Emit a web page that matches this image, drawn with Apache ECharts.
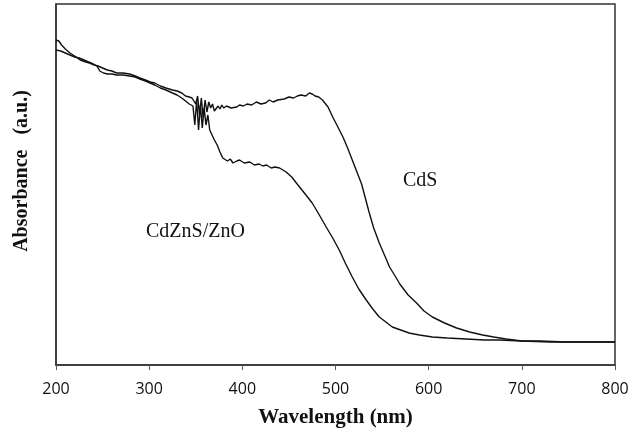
<!DOCTYPE html>
<html>
<head>
<meta charset="utf-8">
<script src="https://cdn.jsdelivr.net/npm/echarts@6/dist/echarts.min.js"></script>
<style>
html, body { margin: 0; padding: 0; background: #fff; }
#chart { width: 644px; height: 436px; }
</style>
</head>
<body>
<div id="chart"></div>
<script>
// 数据
var xTicks = [200, 300, 400, 500, 600, 700, 800];

var wlCdS = [200, 203, 206, 210, 215, 220, 226, 232, 236, 241, 245, 250, 255, 260, 265, 272, 279, 285, 290, 296, 301, 306, 312, 318, 325, 330, 335, 339, 343, 346, 348,
    350, 352, 354, 356, 358, 360, 362, 364, 366, 368, 370, 372, 374, 376, 378, 380, 383, 385, 388, 390, 394, 397, 401, 405, 410, 415, 420, 425,
    429, 433, 438, 445, 450, 455, 459, 463, 468, 472, 475, 478, 482, 486, 492, 497, 502, 508, 513, 518, 523, 528, 532, 536, 541, 547,
    553, 558, 564, 569, 578, 587, 595, 604, 617, 630, 644, 658, 670, 683, 700, 720, 747, 770, 800];
var absCdS = [3.28, 3.27, 3.23, 3.19, 3.15, 3.12, 3.08, 3.06, 3.05, 3.03, 3.02, 3.00, 2.98, 2.97, 2.95, 2.95, 2.94, 2.92, 2.90, 2.88, 2.86, 2.85, 2.82, 2.80, 2.78, 2.77, 2.75, 2.72, 2.71, 2.70, 2.69,
    2.64, 2.72, 2.53, 2.70, 2.50, 2.68, 2.56, 2.66, 2.60, 2.64, 2.57, 2.58, 2.62, 2.59, 2.63, 2.60, 2.62, 2.64, 2.60, 2.62, 2.61, 2.63, 2.62, 2.64, 2.63, 2.66, 2.64, 2.65,
    2.68, 2.66, 2.68, 2.69, 2.71, 2.70, 2.72, 2.73, 2.72, 2.75, 2.74, 2.72, 2.71, 2.68, 2.61, 2.51, 2.42, 2.31, 2.20, 2.08, 1.96, 1.84, 1.70, 1.56, 1.40, 1.25,
    1.12, 1.01, 0.92, 0.84, 0.73, 0.65, 0.57, 0.51, 0.45, 0.40, 0.36, 0.33, 0.31, 0.29, 0.27, 0.27, 0.26, 0.26, 0.26];

var wlZn = [200, 205, 210, 215, 220, 225, 230, 235, 240, 244, 247, 251, 255, 260, 265, 272, 279, 285, 290, 296, 301, 306, 312, 318, 325, 330, 335, 339, 343, 347,
    349, 351, 353, 355, 357, 359, 361, 363, 365, 367, 370, 373, 376, 379, 384, 387, 390, 394, 397, 402, 408, 413, 418,
    422, 426, 431, 435, 440, 447, 453, 458, 464, 470, 475, 482, 490, 497, 504, 511, 518, 525, 533, 540, 547,
    554, 561, 570, 579, 590, 604, 620, 640, 660, 676, 700, 730, 760, 800];
var absZn = [3.18, 3.17, 3.15, 3.13, 3.11, 3.10, 3.08, 3.06, 3.04, 3.02, 2.97, 2.95, 2.94, 2.94, 2.93, 2.93, 2.92, 2.91, 2.89, 2.87, 2.85, 2.83, 2.80, 2.78, 2.75, 2.73, 2.70, 2.67, 2.64, 2.62,
    2.43, 2.68, 2.38, 2.63, 2.40, 2.60, 2.43, 2.53, 2.38, 2.40, 2.28, 2.23, 2.16, 2.10, 2.07, 2.09, 2.05, 2.07, 2.08, 2.05, 2.06, 2.03, 2.04,
    2.02, 2.03, 2.00, 2.01, 2.00, 1.96, 1.91, 1.85, 1.78, 1.71, 1.65, 1.54, 1.41, 1.30, 1.18, 1.04, 0.91, 0.79, 0.68, 0.59, 0.51,
    0.46, 0.41, 0.38, 0.35, 0.33, 0.31, 0.30, 0.29, 0.28, 0.28, 0.27, 0.26, 0.26, 0.26];

function pairs(xs, ys) {
    var out = [];
    for (var i = 0; i < xs.length; i++) out.push([xs[i], ys[i]]);
    return out;
}

var myChart = echarts.init(document.getElementById('chart'));

var lineStyle = { color: '#111', width: 1.4 };

option = {
    animation: false,
    backgroundColor: '#fff',
    grid: {
        left: 56, right: 29, top: 4, bottom: 71,
        show: true,
        borderColor: '#333',
        borderWidth: 1.5
    },
    xAxis: {
        type: 'value',
        min: xTicks[0],
        max: xTicks[xTicks.length - 1],
        interval: 100,
        name: 'Wavelength (nm)',
        nameLocation: 'middle',
        nameGap: 42,
        nameTextStyle: { fontFamily: 'Liberation Serif', fontWeight: 'bold', fontSize: 21, color: '#111' },
        axisLine: { show: true, lineStyle: { color: '#333', width: 1.5 } },
        axisTick: { show: true, length: 5, lineStyle: { color: '#555' } },
        axisLabel: { fontFamily: 'Open Sans', fontSize: 16, color: '#111', margin: 16 },
        splitLine: { show: false }
    },
    yAxis: {
        type: 'value',
        min: 0.03,
        max: 3.64,
        axisLine: { show: true, lineStyle: { color: '#333', width: 1.5 } },
        axisTick: { show: false },
        axisLabel: { show: false },
        splitLine: { show: false }
    },
    graphic: [
        {
            // y 轴标题
            type: 'text', x: 22, y: 171, rotation: Math.PI / 2,
            style: {
                text: 'Absorbance   (a.u.)', font: 'bold 20px "Liberation Serif"', fill: '#111',
                textAlign: 'center', textVerticalAlign: 'middle'
            }
        },
        {
            type: 'text', left: 403, top: 171,
            style: { text: 'CdS', font: '20px "Liberation Serif"', fill: '#111' }
        },
        {
            type: 'text', left: 146, top: 222,
            style: { text: 'CdZnS/ZnO', font: '20px "Liberation Serif"', fill: '#111' }
        }
    ],
    series: [
        {
            name: 'CdS',
            type: 'line',
            symbol: 'none',
            lineStyle: lineStyle,
            data: pairs(wlCdS, absCdS)
        },
        {
            name: 'CdZnS/ZnO',
            type: 'line',
            symbol: 'none',
            lineStyle: lineStyle,
            data: pairs(wlZn, absZn)
        }
    ]
};
myChart.setOption(option);
</script>
</body>
</html>
